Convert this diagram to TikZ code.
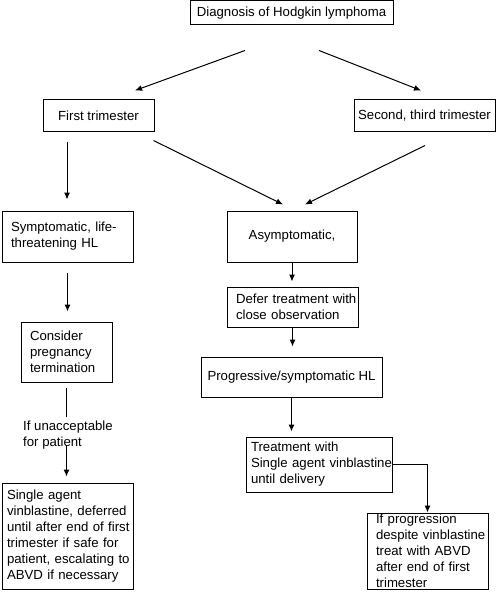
\documentclass[tikz,border=0pt]{standalone}
\usepackage{fontspec}
\setmainfont{Liberation Sans}
\usetikzlibrary{calc,arrows.meta}
\begin{document}
\begin{tikzpicture}[x=1pt,y=-1pt,
  txt/.style={font=\fontsize{13.2}{16}\selectfont},
  box/.style={txt, draw, line width=1pt, inner ysep=0pt},
  cbox/.style={box, align=center, inner xsep=0pt},
  lbox/.style={box, align=left},
  arr/.style={line width=1pt, -{Latex[length=7pt,width=6pt]}},
  ln/.style={line width=1pt}]
\useasboundingbox (0,0) rectangle (496,599);

\node[cbox, minimum width=203pt, minimum height=24pt] (diag) at (291.5,13) {Diagnosis of Hodgkin lymphoma};
\node[cbox, minimum width=111pt, minimum height=31pt] (first) at (98.5,115.5) {First trimester};
\node[cbox, minimum width=141pt, minimum height=31pt] (second) at (424.5,115.5) {Second, third trimester};

\node[lbox, text width=113pt, inner xsep=9pt, minimum height=51pt] (sympt) at (67.5,236.5)
  {\mbox{Symptomatic, life-}\\\mbox{threatening HL}};
\node[cbox, minimum width=130pt, minimum height=51pt] (asym) at (292,236.5) {Asymptomatic,};
\node[lbox, text width=113pt, inner xsep=9pt, minimum height=40pt] (defer) at (292.5,307)
  {\mbox{Defer treatment with}\\\mbox{close observation}};
\node[cbox, minimum width=181pt, minimum height=40pt] (prog) at (291.5,377) {Progressive/symptomatic HL};
\node[lbox, text width=73pt, inner xsep=9pt, minimum height=60pt] (consider) at (66.5,352)
  {\mbox{Consider}\\\mbox{pregnancy}\\\mbox{termination}};
\node[txt, align=left, inner sep=0pt, anchor=north west] (unacc) at (23,421)
  {If unacceptable\\for patient};
\node[lbox, text width=121pt, inner xsep=5pt, minimum height=106pt] (single) at (67.5,536)
  {\mbox{Single agent}\\\mbox{vinblastine, deferred}\\\mbox{until after end of first}\\\mbox{trimester if safe for}\\\mbox{patient, escalating to}\\\mbox{ABVD if necessary}};
\node[lbox, text width=136pt, inner xsep=5pt, minimum height=55pt] (treat) at (319,464.5)
  {\mbox{Treatment with}\\\mbox{Single agent vinblastine}\\\mbox{until delivery}};
\node[lbox, text width=103pt, inner xsep=9pt, minimum height=76pt] (ifprog) at (427.5,551)
  {\mbox{If progression}\\\mbox{despite vinblastine}\\\mbox{treat with ABVD}\\\mbox{after end of first}\\\mbox{trimester}};

% connectors
\draw[arr] ($(diag.south)+(-46.5,25)$) -- ($(first.north)+(36.5,-9)$);
\draw[arr] ($(diag.south)+(27.5,25)$) -- ($(second.north)+(-3.5,-9)$);
\draw[arr] ($(first.south)+(-31.5,10)$) -- ($(sympt.north)+(-0.5,-11)$);
\draw[arr] ($(first.south east)+(-1,9)$) -- ($(asym.north)+(-9,-6)$);
\draw[arr] ($(second.south)+(0.5,14)$) -- ($(asym.north)+(13,-6)$);
\draw[arr, shorten <=10pt, shorten >=10pt] (sympt.south) -- (sympt.south |- consider.north);
\draw[ln, shorten <=5pt] (consider.south) -- ($(consider.south |- unacc.north)+(0,-4)$);
\draw[arr] ($(consider.south |- unacc.south)+(0,-5)$) -- ($(consider.south |- single.north)+(0,-6)$);
\draw[arr, shorten >=5pt] (asym.south) -- (asym.south |- defer.north);
\draw[arr, shorten >=10pt] (defer.south) -- (defer.south |- prog.north);
\draw[arr, shorten >=5pt] (prog.south) -- (prog.south |- treat.north);
\draw[arr] (treat.east) -| (ifprog.north);
\end{tikzpicture}
\end{document}
